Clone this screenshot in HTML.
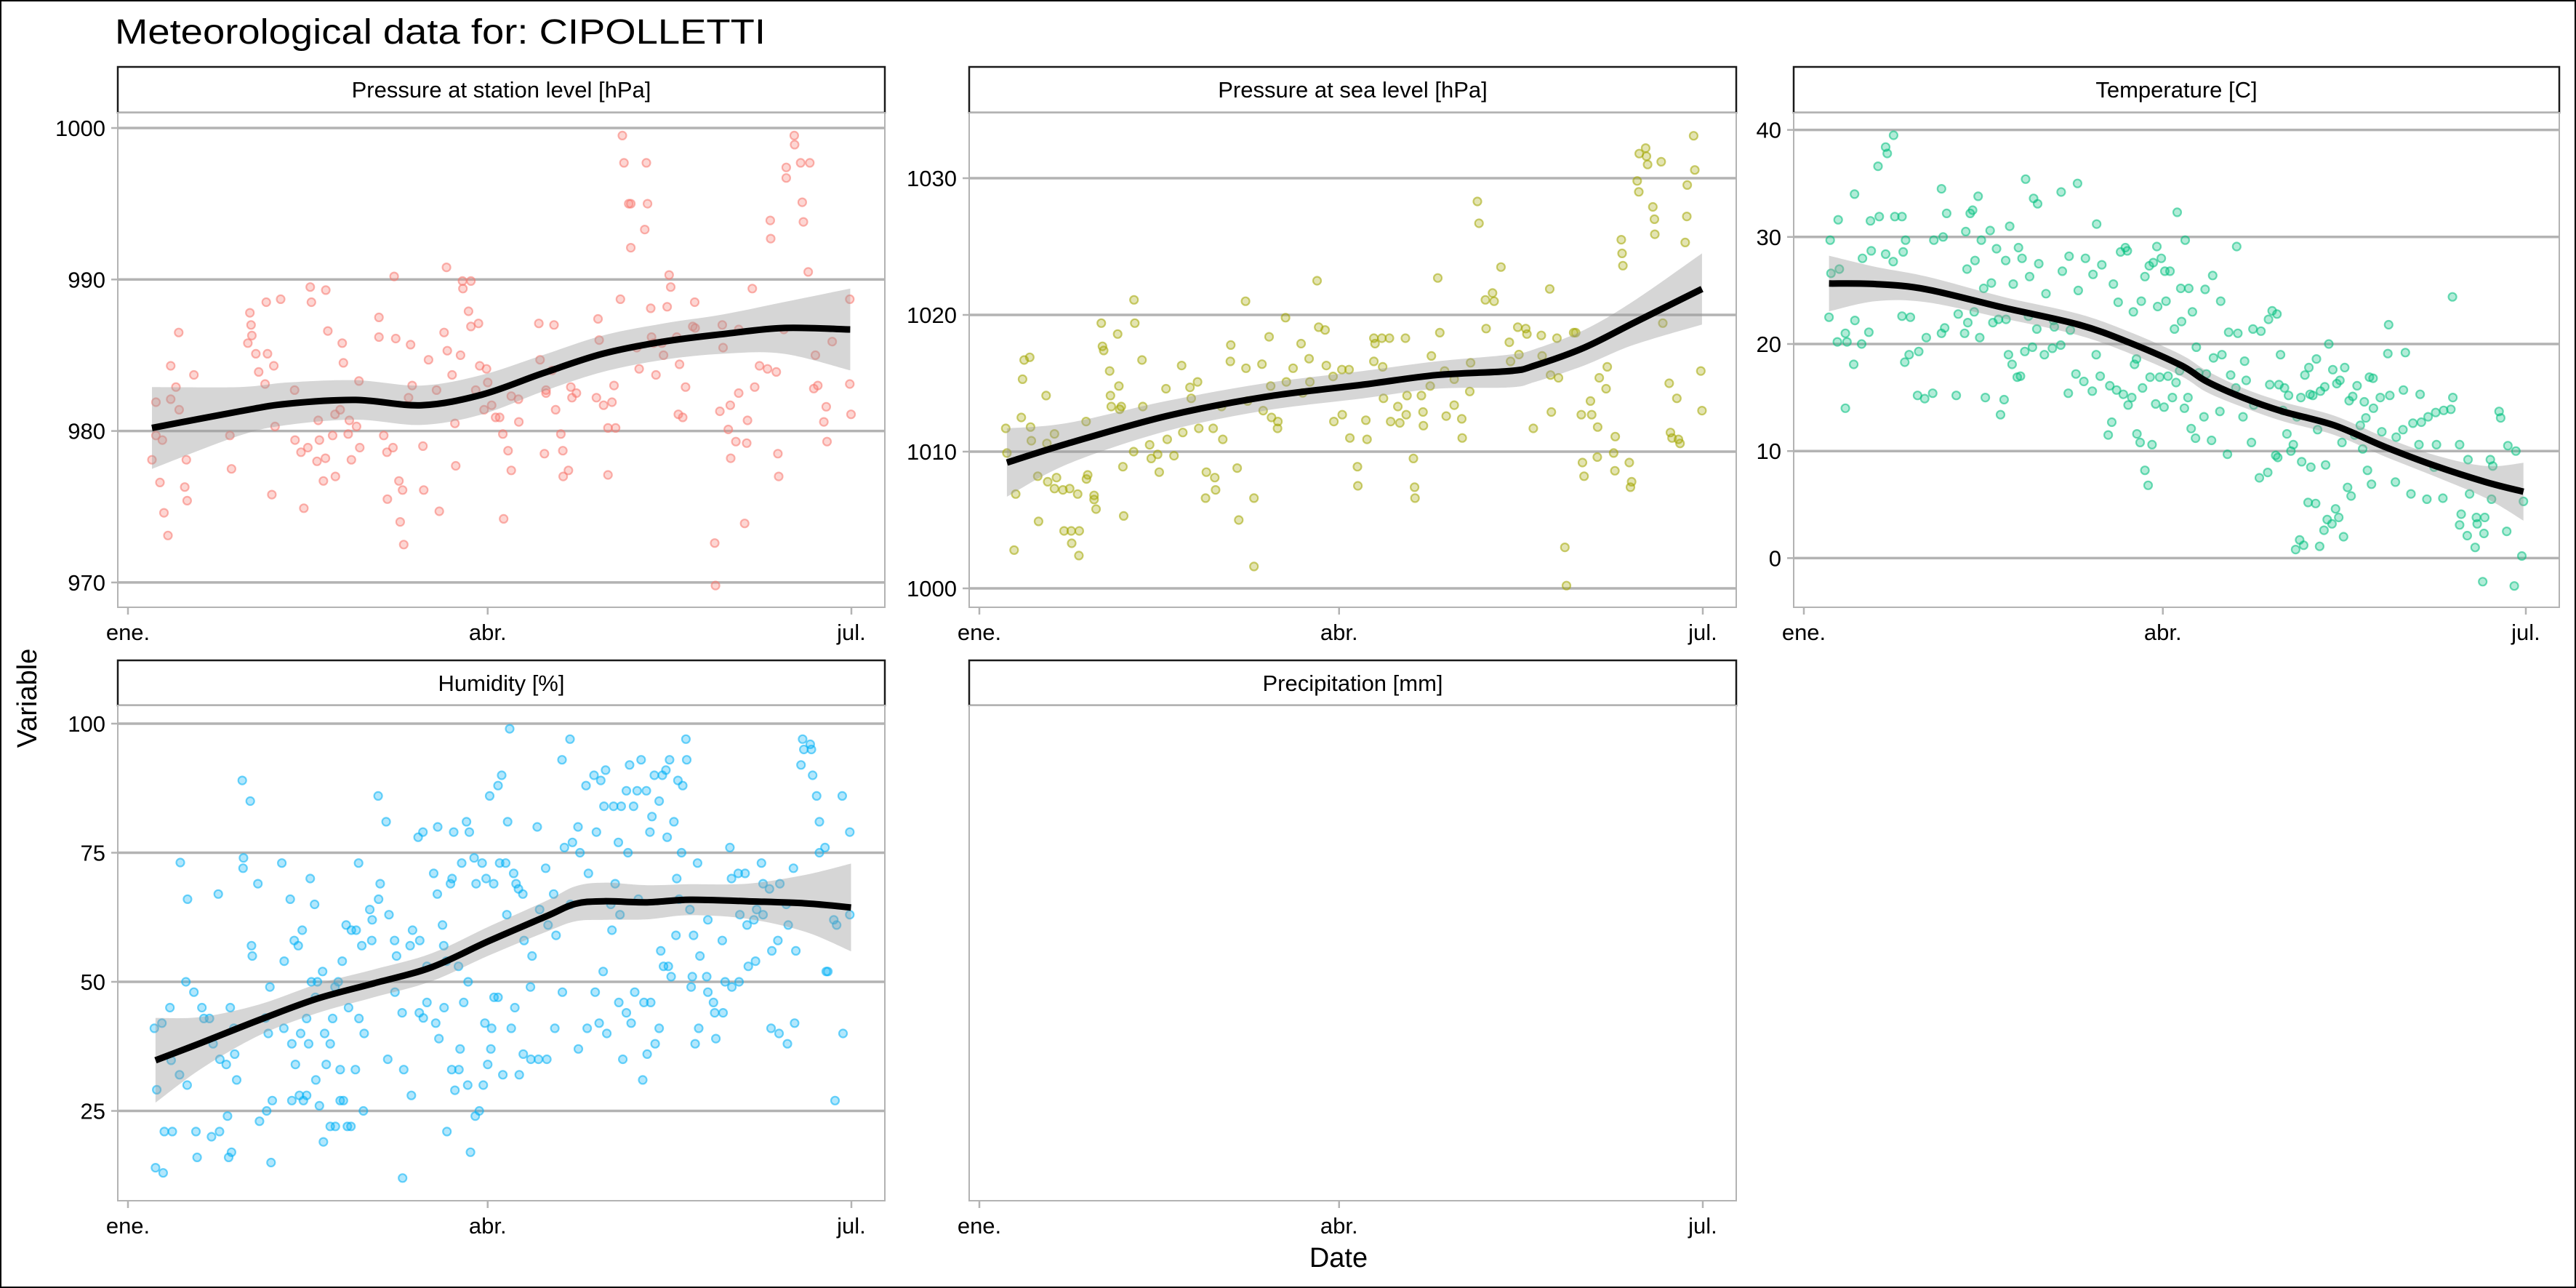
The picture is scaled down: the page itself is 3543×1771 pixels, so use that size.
<!DOCTYPE html>
<html><head><meta charset="utf-8"><style>
html,body{margin:0;padding:0;background:#fff}
svg{display:block}
text{font-family:"Liberation Sans",Arial,sans-serif;fill:#000}
</style></head><body>
<svg id="chart" width="3543" height="1771" viewBox="0 0 3543 1771" xmlns="http://www.w3.org/2000/svg">
<rect x="1" y="1" width="3541" height="1769" fill="#fff" stroke="#000" stroke-width="2"/>
<text x="158" y="60" font-size="48" textLength="895" lengthAdjust="spacingAndGlyphs">Meteorological data for: CIPOLLETTI</text>
<text x="0" y="0" font-size="38" text-anchor="middle" transform="translate(50,960) rotate(-90)">Variable</text>
<text x="1841" y="1742" font-size="38" text-anchor="middle">Date</text>
<g id="panels"></g>
</svg>
<script>
// ---- Shared axis data ----
const xTickDays = [0, 90, 181];
const xTickLabels = ["ene.", "abr.", "jul."];

// ---- Panel 1: Pressure at station level ----
const p1Days = [6,7,7,8.6,8,9,10,10.7,12,10.7,12.7,12.8,14.6,14.2,14.8,16.5,25.5,25.9,30,30.5,30.8,31,32,32.7,34.3,34.6,34.9,36.5,36.8,36,38.2,41.7,41.8,43.3,44,45,45.6,45.9,47.6,47.9,47.3,49.4,48.9,49.5,50,51.2,51.8,51.9,53.1,53.6,53.9,55.4,55.1,55.9,57.2,57.8,58,62.8,62.8,64,64.8,64.9,66.3,67,66.6,67.8,68.1,68.7,69,70.7,71.1,70.2,73.8,74,75.2,77.2,77.9,79.1,79.9,79.7,81.1,81.8,82,83.2,83.8,83.7,85.8,85.2,85.8,87.7,87,88,89.7,90,89.1,91,92,93,93.8,94,95.1,95.9,95.9,97.7,97.8,102.8,103.1,104.6,104.6,104.2,106.1,106.6,107,108.3,108.8,108.9,110.2,110.8,111.1,112.2,117.2,117.6,117.9,119,120.1,120.1,121.1,121.6,122,123.2,123.7,124.1,125.3,125.8,125.8,127.3,127.9,129.3,129.7,130,130.8,131,131.5,132.1,133.6,134,134.9,135.4,135.8,137.3,138,137.7,138.8,139.5,141.3,141.8,141.9,146.8,147,148.1,148.7,148.9,150.2,150.8,150.7,152.1,152.8,152.8,154.3,154.8,155,156.2,156.8,158,160,160.7,160.8,162.2,162.6,162.8,164.7,164.7,166.7,166.8,168.3,170.6,168.7,169,170.2,171.6,172,172.6,174.1,174.7,174.9,176.2,180.6,180.6,180.9,164.1];
const p1Vals = [978.1,981.9,979.7,979.4,976.6,974.6,973.1,984.3,982.9,982.1,986.5,981.4,978.1,976.3,975.4,983.7,979.7,977.5,985.8,987.8,987,986.3,985.1,983.9,983.1,988.5,985.1,984.3,980.3,975.8,988.7,982.7,979.4,978.6,974.9,978.9,989.5,988.5,980.7,979.4,978,978.2,976.7,989.3,986.6,979.7,981.1,977,981.4,985.8,984.5,980.7,979.8,978.1,980.3,983.3,978.9,987.5,986.2,979.7,978.6,975.5,978.9,986.1,990.2,976.7,974,976.1,972.5,985.7,983,982.2,979,976.1,984.7,982.7,974.7,986.5,985.3,990.8,983.7,980.5,977.7,985,989.4,989.9,989.9,987.9,986.9,987.1,982.7,984.3,984.1,983.2,981.4,981.7,980.9,980.9,979.8,974.2,978.7,977.4,982.3,982.1,980.6,987.1,984.7,982.7,982.5,978.5,984,987,981.4,979.8,978.7,977,977.4,982.9,982.2,982.5,982.2,987.4,986,981.7,980.2,977.1,981.9,983,980.2,988.7,999.5,997.7,995,995,992.1,985.5,984.1,993.3,997.7,995,988.1,986.2,985.8,983.7,985.8,985,988.2,990.3,989.5,986.2,984.4,981.1,980.9,982.9,986.9,988.5,986.8,972.6,969.8,981.3,987,985.5,980.1,978.2,981.7,979.3,982.5,986.7,973.9,979.2,980.7,989.4,982.9,984.3,984.1,993.9,992.7,983.9,978.5,977,997.4,996.7,999.5,998.9,997.7,997.7,995.1,993.8,990.5,982.8,985,983,980.6,981.6,979.3,985.9,988.7,983.1,981.1,986.7];
const p1SmoothDays = [6,28,40,57,73.5,88.6,103.7,118.8,134,149,164,180.7];
const p1SmoothVals = [980.2,981.3,981.8,982.05,981.7,982.4,983.8,985.1,985.9,986.4,986.8,986.7];
const p1SmoothSE = [2.7,1.6,1.4,1.3,1.3,1.3,1.2,1.2,1.2,1.3,1.7,2.7];
const p1Ticks = [970,980,990,1000];

// ---- Panel 2: Pressure at sea level ----
const p2Days = [6.6,6.9,9.1,8.7,10.5,10.8,11.2,12.6,12.8,13,14.6,14.8,16.7,16.9,17.1,18.8,18.8,19.3,20.9,21.2,22.6,23,23.1,24.6,24.9,25,26.7,26.8,27.1,28.7,28.7,29.2,30.5,30.8,31.1,32.6,32.8,33,34.6,34.9,35.1,35.5,35.9,36.1,38.7,38.9,38.6,40.7,40.9,42.6,43,44.6,45,46.7,47,48.7,50.6,50.9,52.7,53,54.6,54.9,56.8,56.6,58.5,58.9,59.1,60.6,60.9,62.9,62.8,64.5,64.9,66.6,66.7,67.1,68.7,68.7,70.7,71,72.5,72.9,73.1,74.6,74.7,76.6,76.8,78.5,80.5,80.9,82.5,82.7,84.5,84.9,86.5,86.8,88.5,88.7,90.7,90.8,92.7,92.5,94.6,94.7,96.7,97,98.7,98.7,99,100.7,100.9,101.1,102.6,102.9,104.7,105.2,106.6,106.8,107,108.6,108.9,109,110.6,111,111.1,112.8,113.1,114.7,115.2,116.4,116.8,118.8,118.8,120.7,120.8,122.7,122.9,124.6,125,126.6,126.8,128.4,128.8,130.5,132.6,132.9,134.7,135,136.7,137,138.6,140.6,140.8,142.7,143.1,142.9,144.5,144.9,146.5,146.9,148.7,149.2,150.6,150.9,151.3,152.9,153.2,154.7,154.6,155.1,156.8,157.1,158.7,159,159.1,160.6,160.8,161,162.6,162.9,163.2,164.6,165,165.1,166.7,166.9,167.2,168.5,168.9,169,170.6,171,172.6,172.9,173.3,174.5,174.9,175.3,176.6,177,177.1,178.7,179,180.5,180.8];
const p2Vals = [1011.7,1009.9,1006.9,1002.8,1012.5,1015.3,1016.7,1016.9,1011.8,1010.8,1008.2,1004.9,1014.1,1010.6,1007.8,1011.3,1007.3,1008.1,1007.2,1004.2,1007.3,1004.2,1003.3,1006.9,1002.4,1004.2,1012.2,1008,1008.3,1006.8,1006.5,1005.8,1019.4,1017.7,1017.4,1015.9,1014.1,1013.3,1018.6,1014.8,1013.1,1013.3,1008.9,1005.3,1021.1,1019.4,1010,1016.7,1013.3,1010.5,1009.5,1009.8,1008.5,1014.6,1010.9,1009.7,1016.3,1011.4,1014.7,1013.9,1015.1,1011.7,1008.5,1006.6,1011.7,1008.1,1007.2,1013.3,1010.9,1017.8,1016.6,1008.8,1005,1021,1016.1,1013.7,1006.6,1001.6,1016.4,1013,1018.4,1014.8,1012.5,1011.7,1012.2,1019.8,1015.1,1016.1,1017.9,1014.3,1016.8,1015.1,1022.5,1019.1,1018.9,1016.3,1015.5,1012.2,1016,1012.7,1011,1016,1008.9,1007.5,1012.3,1010.9,1016.6,1018.3,1017.9,1018.3,1016.2,1013.9,1018.3,1012.2,1013.3,1012.1,1018.3,1012.7,1014.1,1009.5,1007.4,1006.6,1014.1,1012.9,1011.9,1014.8,1017,1022.7,1018.7,1015.9,1012.6,1013.4,1015.3,1012.4,1011,1014.4,1016.5,1028.3,1026.7,1021.1,1019,1021.6,1021,1023.5,1018,1016.6,1019.1,1017.1,1019,1018.6,1011.7,1018.5,1017,1021.9,1012.9,1015.6,1018.3,1015.4,1003,1000.2,1018.7,1018.7,1012.7,1009.2,1008.2,1013.7,1012.7,1011.8,1009.6,1015.4,1014.6,1016.2,1009.9,1008.6,1011.1,1025.5,1024.5,1023.6,1009.2,1007.4,1007.8,1029.8,1029,1031.8,1032.2,1031.6,1031,1027.9,1027,1025.9,1031.2,1019.4,1015,1011.4,1011,1013.9,1010.9,1010.6,1025.3,1027.2,1029.5,1033.1,1030.6,1015.9,1013];
const p2SmoothDays = [6.9,22.2,46.8,71.4,96,114.4,132.8,139,151.3,163.6,180.8];
const p2SmoothVals = [1009.2,1010.6,1012.6,1014,1014.9,1015.6,1015.9,1016.3,1017.6,1019.4,1021.9];
const p2SmoothSE = [2.5,1.5,1.1,1,1,1,1.2,1.2,1.3,1.6,2.6];
const p2Ticks = [1000,1010,1020,1030];

// ---- Panel 3: Temperature ----
const p3Days = [6.3,6.6,6.8,8.6,8.9,10.4,8.4,10.8,10.4,12.5,12.7,12.8,14.5,14.7,16.3,16.7,16.9,18.6,18.9,20.5,20.5,20.9,22.4,22.5,22.8,24.6,24.6,24.9,25.5,25.3,26.4,26.7,28.5,28.8,30.3,30.7,32.3,32.6,34.5,34.5,34.9,35.3,35.8,38.2,38.7,40.3,40.6,40.9,41.1,41.7,42.3,42.7,42.9,43.7,44.1,44.5,45.1,45.5,46.7,47,47.4,48.3,48.8,49.3,50.2,50.6,50.7,51.3,51.6,52.2,52.5,53.5,53.8,54.3,54.7,55.4,55.6,56.3,56.6,57.3,57.6,58.4,58.6,58.9,60.3,60.7,62.3,62.6,62.8,64.4,64.5,64.8,66.3,66.5,66.8,68.2,68.6,68.8,70.2,70.6,72.3,72.5,73.4,73.3,74.3,74.7,76.3,76.7,77.2,77.6,78.4,78.8,79.4,80.1,80.6,81.1,81.3,82.2,82.6,82.9,83.4,83.5,84.3,84.6,84.9,85.5,85.5,86.3,86.6,86.8,87.3,87.6,88.2,88.5,88.7,89.2,89.6,90.3,90.5,90.8,91.3,91.8,92.4,92.9,93.3,93.6,94.2,94.5,94.7,95.4,95.6,96.3,96.5,97.1,97.4,98.2,98.4,99,100.3,100.6,100.9,102.2,102.5,102.7,104.3,104.5,104.8,106.2,106.5,107,108.3,108.5,108.8,110.1,110.5,110.9,112.2,112.6,112.8,114.2,114.6,116.3,116.5,116.8,117.4,118.3,118.6,118.8,119.1,119.5,120.1,120.5,121.1,121.5,122.1,122.7,123.3,123.6,124.3,124.6,124.8,125.3,125.6,126.4,126.6,126.9,127.1,127.6,128.3,128.5,128.8,129.3,129.5,130.4,130.6,130.8,131.2,131.6,132.4,132.6,133.3,133.6,134.1,134.4,134.9,135.3,135.6,136.3,136.7,137.2,137.6,138.1,138.7,139.5,140.1,140.5,140.9,141.3,141.8,142.3,142.8,142.7,144.5,144.9,146.4,146.6,146.9,148.3,148.5,150.3,150.2,150.8,152.2,152.7,154.2,154.5,154.8,156.2,156.5,158,158.4,158.6,160.2,160.4,162.2,162.6,162.7,164.4,164.4,164.8,166.3,166.5,166.9,168.3,168.6,168.8,170.2,170.5,170.7,172.1,172.4,172.7,174.3,174.7,176.2,176.5,178.1,178.5,180,180.4];
const p3Vals = [22.5,29.7,26.6,31.6,27,21,20.2,20.2,14,18.1,34,22.2,20,28,21.1,31.5,28.7,36.6,31.9,28.4,38.4,37.8,27.7,39.5,31.9,31.9,22.6,28.6,29.7,18.3,19,22.5,15.2,19.3,14.9,20.6,15.4,29.7,34.5,21,30,21.5,32.2,15.2,22.8,21,30.5,27,22,32.2,32.5,23,27.8,33.8,20.6,29.7,25.2,15,30.6,25.7,22,28.9,22.3,13.4,14.8,27.8,22.3,19,31,18.1,25.6,16.9,29,17,28,19.3,35.4,22.6,26.3,19.7,33.6,21.4,33.1,27.5,19,24.7,19.6,22.2,21.6,19.9,34.2,26.8,15.4,28.2,21.3,17.2,35,25,16.5,28,15.6,26.5,31.2,19,17,27.4,11.5,16.1,12.7,25.6,15.7,23.9,28.6,15.3,29,28.7,14.3,15,23,18.1,18.6,11.6,10.8,24,15.9,26.3,8.2,6.8,27.3,16.9,10.6,27.6,14.4,29.1,23.5,16.9,28,14.1,26.8,24,17,26.8,15,21.4,16.4,32.3,17.5,25.2,22.1,14,29.7,15,25.2,12.1,23,11.2,19.7,17.3,13.2,25.1,17.2,11,26.4,18.7,13.7,24,19,9.7,21.1,17.1,15.9,29.1,21,13.2,18.4,16.6,10.8,21.4,14.3,7.5,21.2,8,22.3,16.2,23.1,9.6,22.8,9.4,16.2,19,13.8,15.9,11.6,15.2,10,10.6,0.8,13.2,1.7,15,9,1.2,17.1,5.2,17.8,15.3,8.5,15.2,5.1,18.6,12,1.1,15.6,2.6,16,8.7,3.6,20,3.2,17.6,4.6,16.3,3.8,16.6,10.8,2,17.8,6.6,14.7,5.8,15.1,11.5,16.1,12.4,10.2,14.6,13.1,8.2,16.9,6.9,14,16.8,15,11.8,19.1,21.8,15.2,7.1,11.3,15.7,12,19.2,6,12.6,10.6,15.3,12.7,5.5,13.2,8.5,13.6,10.6,5.6,13.8,13.9,24.4,15,10.6,3.1,4.1,2.1,9.2,6,1,3.8,3.2,-2.2,2.3,3.8,9.2,5.5,8.6,13.7,13.1,2.5,10.5,-2.6,10,0.2,5.3];
const p3SmoothDays = [6.3,18,30.8,50,69,81.8,94.6,101,110,120,133,145.6,158.4,171,180.4];
const p3SmoothVals = [25.65,25.6,25.1,23.4,21.8,20.1,18,16.5,15,13.7,12.4,10.4,8.6,7.1,6.2];
const p3SmoothSE = [2.6,1.6,1.2,1,1,1,1,1,0.9,0.9,0.9,0.9,1,1.5,2.7];
const p3Ticks = [0,10,20,30,40];

// ---- Panel 4: Humidity ----
const p4Days = [6.6,6.9,7.2,8.8,8.5,9.1,10.5,10.8,11.1,12.9,13.1,14.8,14.9,14.5,16.5,17,17.3,18.5,19,20.4,20.9,21.3,22.6,22.9,23,24.6,24.9,25.2,25.6,25.9,26.5,26.7,27.2,28.6,28.9,28.8,30.6,30.9,31.1,32.5,32.9,34.4,34.7,35.1,35.5,35.8,36.1,38.5,39,39.1,40.6,41,41,41.6,41.9,42.6,42.9,43.2,43.6,43.9,44.7,44.7,45.2,45.6,45.9,46.7,46.9,47,47.4,47.9,48.7,48.9,49.2,49.6,50.6,50.6,51.2,51.9,51.8,52.6,53.1,53.1,53.6,53.9,54.6,54.9,55.2,55.8,55.9,56.9,57.1,57.7,57.8,58.5,58.9,59.1,60.5,61.1,61,62.6,62.7,63.1,64.6,65,65.3,66.7,66.8,67.2,68.6,68.7,69,70.9,71.2,70.6,72.6,72.9,73,73.9,73.8,74.8,74.8,76.5,77,77.4,77.5,77.8,78.7,79,79.1,79.8,79.7,80.7,81.1,81,81.5,81.8,82.7,82.8,83.1,83.5,84,84.7,85,85.1,85.4,85.7,86.6,86.9,87.1,87.9,88.6,88.9,89.3,89.6,90,90.5,90.8,91,91.5,91.6,92.6,92.6,93,93.5,93.8,94.5,94.8,95,95.5,95.9,96.5,96.8,97.1,97.7,97.9,98.8,98.9,99.1,100.8,101.1,100.7,102.4,102.7,103,104.5,104.8,105.1,106.5,106.8,107.1,108.7,108.6,109.2,110.6,111.2,110.7,112.7,112.6,113.1,114.6,114.9,115.2,116.6,116.9,117.2,117.9,118.3,118.9,119.1,119.5,119.8,120.8,121.1,121.5,121.9,122.7,122.8,123.1,123.4,123.8,124.7,124.7,125.1,125.5,125.9,126.5,126.8,127.4,127.7,128.4,128.8,129.1,129.7,129.9,130.6,130.8,131.1,131.7,131.9,132.9,132.9,133.3,133.7,134,134.6,134.9,135.2,135.5,135.9,136.6,137.1,137.3,137.6,137.9,138.5,138.8,139.6,139.8,140.6,140.9,141.2,141.5,141.9,142.5,142.8,143.1,144.8,145.1,145.1,146.5,146.8,147.1,148.7,148.9,149.4,150.6,151,151.1,152.9,153.1,152.7,154.4,154.9,155.2,156.6,157,157.3,158.5,158.9,158.9,160.5,160.9,161.1,162.6,162.9,163.1,164.7,165,165.2,166.5,166.8,167.1,168.4,168.8,169.1,170.7,171,171.3,172.3,173,173,174.4,174.7,175.1,176.6,176.9,177.3,178.7,178.9,180.6,180.6];
const p4Vals = [41,14,29.1,13,42,21,45,34.8,21,32,73.1,30,66,50,48,21,16,45,42.9,42.9,20,38,67,21,35,34,24,16,45,17,41,36,31,89,74,72,85,57,55,69,23,43,25,40,49,15,27,73,41,54,66,38,27,58,34,57,28,40,60,27,28,42.9,38,70,50,65,47,31,50,26,52,19,40,34,38,22,42.9,22,49,50,33,27,54,27,61,22,45,22,60,33,60,73,42.9,57,25,40,64,62,58,86,66,69,81,35,63,58,48,55,44,12,33,28,60,57,78,44,58,43,79,46,53,71,42,67,80,39,61,57,45,21,54,69,70,33,79,29,53,33,37,73,46,81,30,50,79,17,74,24,69,25,73,30,42,70,34,86,37,41,69,47,88,47,73,90,32,73,63,81,99,41,71,45,69,68,32,67,36,58,35,55,49,80,35,64,72,35,61,67,41,59,48,93,76,97,77,65,37,80,75,88,41,71,90,48,79,42,89,52,84,91,40,65,60,84,69,77,46,63,84,35,44,87,75,92,42,84,48,87,66,93,31,46,87,36,79,46,82,90,38,85,41,56,90,53,91,78,53,93,51,81,59,70,89,66,75,88,97,93,64,49,51,59,38,73,41,55,51,48,62,46,44,39,58,44,50,76,70,49,50,63,71,71,61,53,62,54,64,73,63,69,68,41,56,58,40,69,65,38,61,72,42,56,92,97,95,96,95,90,86,81,75,76,52,52,62,27,61,86,40,79,63];
const p4SmoothDays = [6.9,18.4,32.8,47.2,61.5,75.9,90.3,104.7,111.9,119.1,129.9,140.6,155,169.4,180.9];
const p4SmoothVals = [34.8,38.2,42.6,46.7,49.7,52.8,57.9,62.7,65.1,65.6,65.4,65.9,65.6,65.2,64.4];
const p4SmoothSE = [8.2,5,3,2.8,2.7,2.7,2.8,3,3.4,3.6,3.3,3,3.4,5.5,8.5];
const p4Ticks = [25,50,75,100];

const NS = "http://www.w3.org/2000/svg";
const root = document.getElementById("panels");
function mk(tag, attrs, parent) {
  const e = document.createElementNS(NS, tag);
  for (const k in attrs) e.setAttribute(k, attrs[k]);
  (parent || root).appendChild(e);
  return e;
}
function catmull(pts) {
  let d = "M" + pts[0][0].toFixed(1) + "," + pts[0][1].toFixed(1);
  for (let i = 0; i < pts.length - 1; i++) {
    const p0 = pts[i - 1] || pts[i], p1 = pts[i], p2 = pts[i + 1], p3 = pts[i + 2] || p2;
    const c1x = p1[0] + (p2[0] - p0[0]) / 6, c1y = p1[1] + (p2[1] - p0[1]) / 6;
    const c2x = p2[0] - (p3[0] - p1[0]) / 6, c2y = p2[1] - (p3[1] - p1[1]) / 6;
    d += " C" + c1x.toFixed(1) + "," + c1y.toFixed(1) + " " + c2x.toFixed(1) + "," + c2y.toFixed(1) + " " + p2[0].toFixed(1) + "," + p2[1].toFixed(1);
  }
  return d;
}

const cols = [[162, 1217], [1333, 2388], [2467, 3520]];
const rows = [{ s: 92, t: 155, b: 835, lab: 880 }, { s: 908, t: 970, b: 1651, lab: 1696 }];

function drawPanel(slug, title, col, row, opts) {
  const [L, R] = cols[col];
  const rw = rows[row];
  const g = mk("g", {});
  
  
  const xScale = d => L + 14 + d * (R - L - 60) / 181;
  // strip
  const strip = mk("rect", { x: L, y: rw.s, width: R - L, height: rw.t - rw.s, fill: "#fff", stroke: "#1a1a1a", "stroke-width": 2.5 }, g);
  
  
  const st = mk("text", { x: (L + R) / 2, y: rw.s + 42, "font-size": 31, "text-anchor": "middle" }, g);
  st.textContent = title;
  
  
  // panel frame
  const fr = mk("rect", { x: L, y: rw.t, width: R - L, height: rw.b - rw.t, fill: "#fff", stroke: "#b3b3b3", "stroke-width": 2 }, g);
  
  
  // x ticks
  xTickDays.forEach((d, i) => {
    const x = xScale(d);
    const tk = mk("line", { x1: x, x2: x, y1: rw.b, y2: rw.b + 10, stroke: "#b3b3b3", "stroke-width": 2.5 }, g);
    
    
    const tl = mk("text", { x: x, y: rw.lab, "font-size": 31, "text-anchor": "middle" }, g);
    tl.textContent = xTickLabels[i];
    
    
  });
  if (!opts) return;
  const yScale = v => opts.y0 + (opts.v0 - v) * opts.k;
  opts.ticks.forEach(t => {
    const y = yScale(t);
    const gl = mk("line", { x1: L + 1, x2: R - 1, y1: y, y2: y, stroke: "#b3b3b3", "stroke-width": 3.5 }, g);
    
    
    const tk = mk("line", { x1: L - 9, x2: L, y1: y, y2: y, stroke: "#b3b3b3", "stroke-width": 2.5 }, g);
    
    
    const tl = mk("text", { x: L - 17, y: y + 11, "font-size": 31, "text-anchor": "end" }, g);
    tl.textContent = String(t);
    
    
  });
  // points
  const pg = mk("g", {}, g);
  
  
  opts.days.forEach((d, i) => {
    const c = mk("circle", { cx: xScale(d).toFixed(1), cy: yScale(opts.vals[i]).toFixed(1), r: 5.5, fill: opts.color, "fill-opacity": 0.3, stroke: opts.color, "stroke-opacity": 0.55, "stroke-width": 2.2 }, pg);
    
    
  });
  // band
  const up = opts.sd.map((d, i) => [xScale(d), yScale(opts.sv[i] + opts.se[i])]);
  const lo = opts.sd.map((d, i) => [xScale(d), yScale(opts.sv[i] - opts.se[i])]).reverse();
  const bandPath = catmull(up) + " L" + catmull(lo).slice(1) + " Z";
  const band = mk("path", { d: bandPath, fill: "#999999", "fill-opacity": 0.4, stroke: "none" }, g);
  
  
  const line = mk("path", { d: catmull(opts.sd.map((d, i) => [xScale(d), yScale(opts.sv[i])])), fill: "none", stroke: "#000", "stroke-width": 9, "stroke-linecap": "butt" }, g);
  
  
}

drawPanel("station-pressure", "Pressure at station level [hPa]", 0, 0, { y0: 176, v0: 1000, k: 20.83, ticks: p1Ticks, days: p1Days, vals: p1Vals, sd: p1SmoothDays, sv: p1SmoothVals, se: p1SmoothSE, color: "#F8766D" });
drawPanel("sea-pressure", "Pressure at sea level [hPa]", 1, 0, { y0: 245, v0: 1030, k: 18.8, ticks: p2Ticks, days: p2Days, vals: p2Vals, sd: p2SmoothDays, sv: p2SmoothVals, se: p2SmoothSE, color: "#A3A500" });
drawPanel("temperature", "Temperature [C]", 2, 0, { y0: 178.6, v0: 40, k: 14.72, ticks: p3Ticks, days: p3Days, vals: p3Vals, sd: p3SmoothDays, sv: p3SmoothVals, se: p3SmoothSE, color: "#00BF7D" });
drawPanel("humidity", "Humidity [%]", 0, 1, { y0: 995, v0: 100, k: 7.1, ticks: p4Ticks, days: p4Days, vals: p4Vals, sd: p4SmoothDays, sv: p4SmoothVals, se: p4SmoothSE, color: "#00B0F6" });
drawPanel("precipitation", "Precipitation [mm]", 1, 1, null);
</script>
</body></html>
